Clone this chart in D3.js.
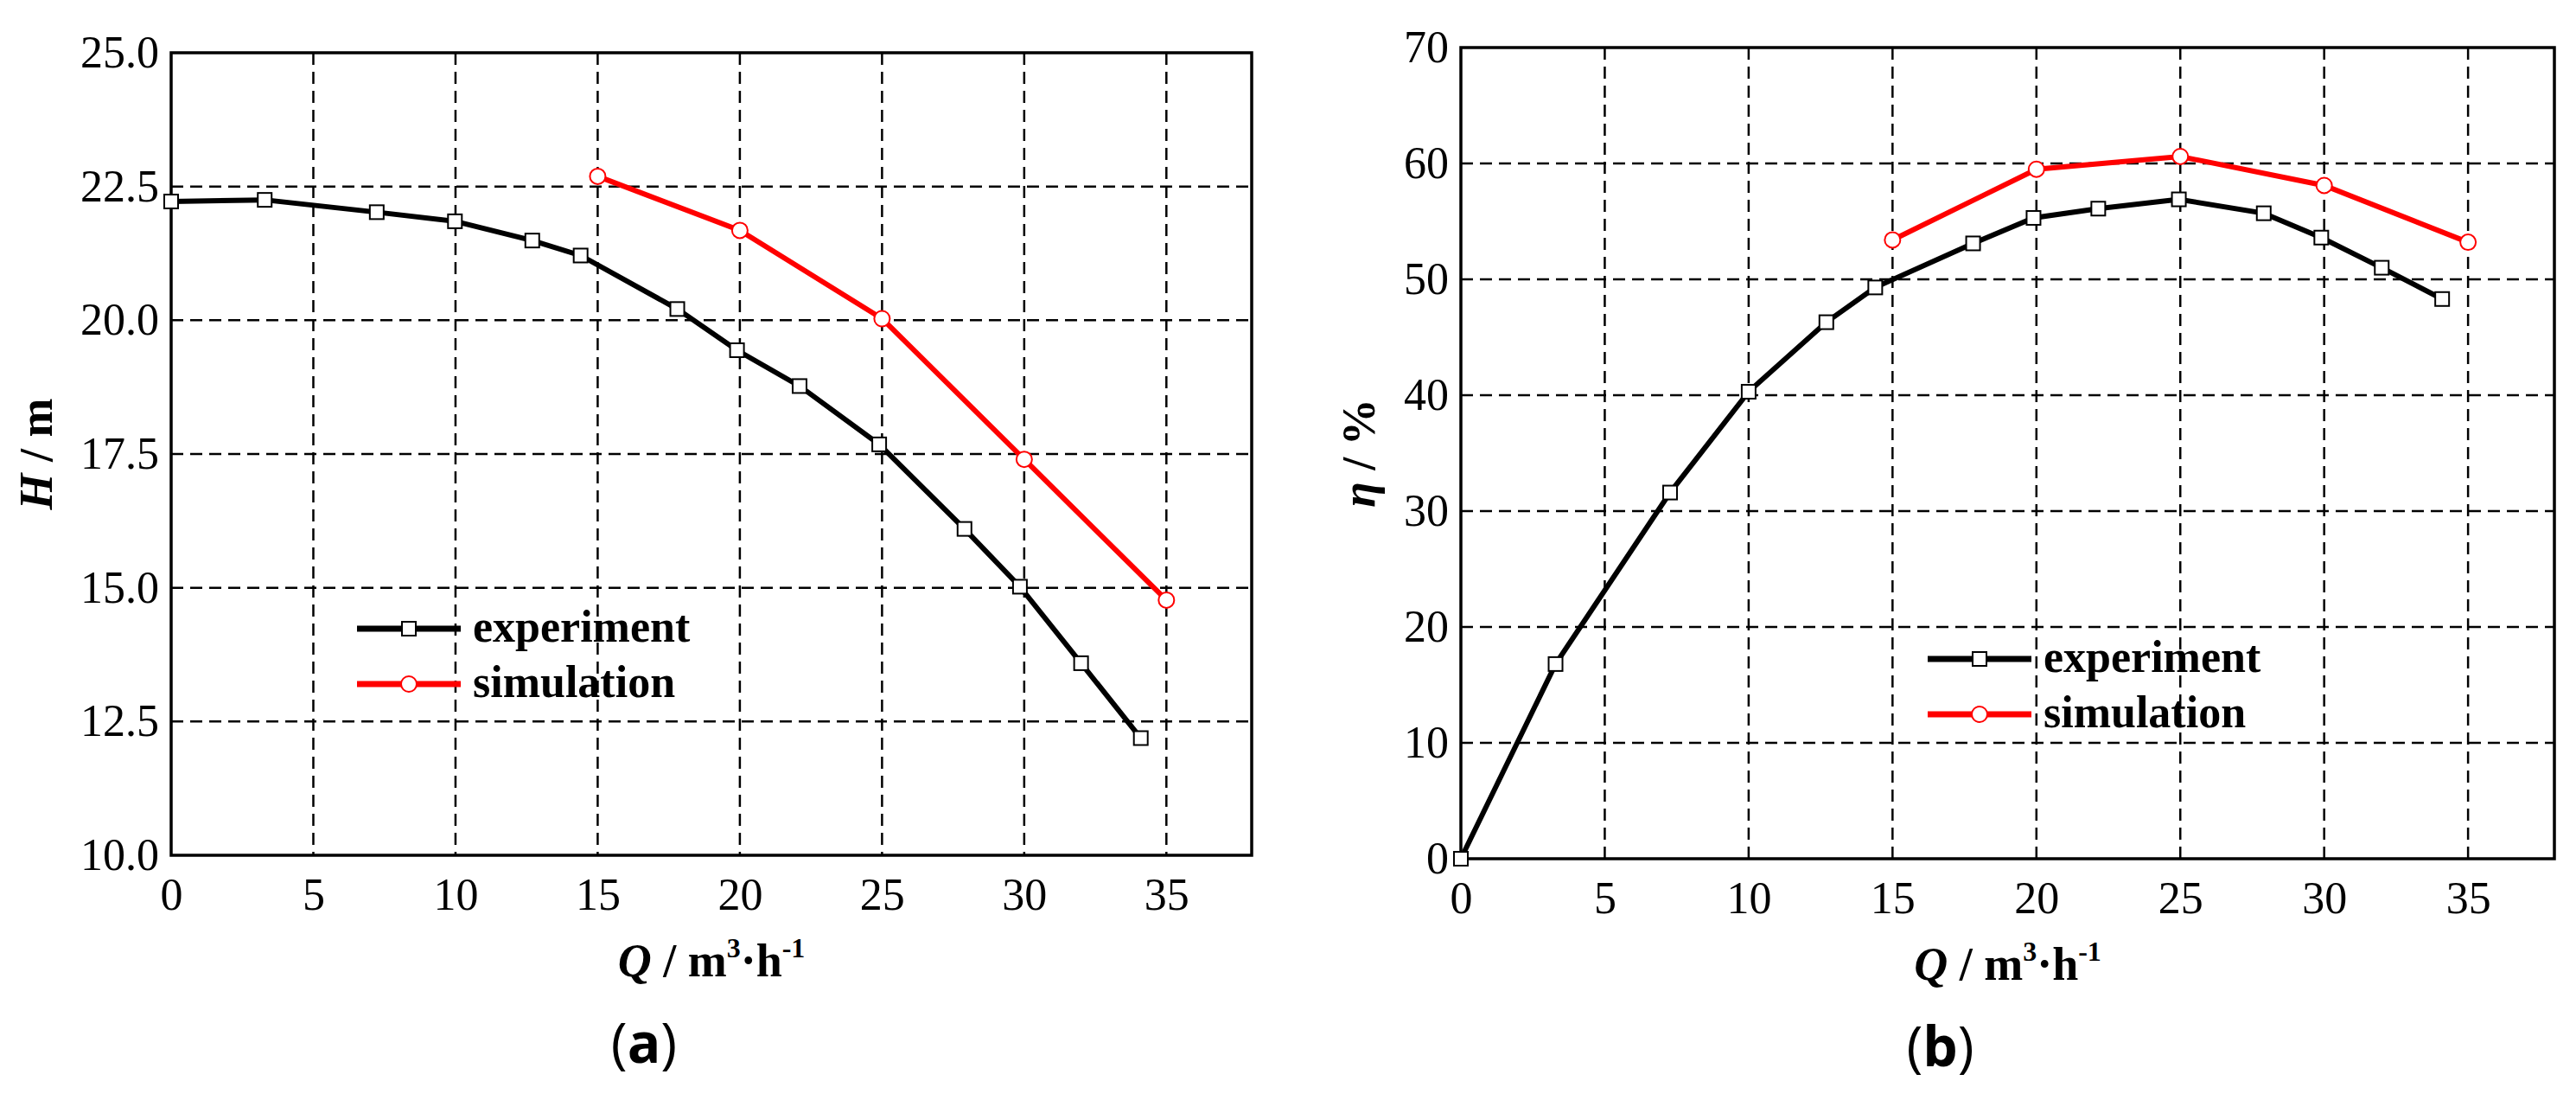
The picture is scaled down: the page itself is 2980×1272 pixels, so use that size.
<!DOCTYPE html>
<html><head><meta charset="utf-8">
<script src="https://cdn.jsdelivr.net/npm/d3@7"></script>
<style>body{margin:0;background:#fff} svg text{font-family:'Liberation Serif','Times New Roman',serif}</style>
</head><body>
<svg id="c" width="2980" height="1272"></svg>
<script>
// experiment / simulation data
const expQ = [0, 3.29, 7.23, 9.98, 12.7, 14.4, 17.8, 19.9, 22.1, 24.9, 27.9, 29.85, 32.0, 34.1];
const expH = [22.22, 22.25, 22.02, 21.85, 21.49, 21.21, 20.21, 19.44, 18.77, 17.68, 16.10, 15.02, 13.59, 12.19];
const expQb = [0, 3.29, 7.27, 10.0, 12.7, 14.4, 17.8, 19.9, 22.15, 24.95, 27.9, 29.9, 32.0, 34.1];
const expEta = [0, 16.8, 31.6, 40.3, 46.3, 49.3, 53.1, 55.3, 56.1, 56.9, 55.7, 53.6, 51.0, 48.3];
const simQ = [15, 20, 25, 30, 35];
const simH = [22.69, 21.68, 20.03, 17.40, 14.77];
const simEta = [53.4, 59.5, 60.6, 58.1, 53.2];
const xTicks = [0, 5, 10, 15, 20, 25, 30, 35];
const hTicks = [10, 12.5, 15, 17.5, 20, 22.5, 25];
const etaTicks = [0, 10, 20, 30, 40, 50, 60, 70];
const legendNames = ["experiment", "simulation"];

const svg = d3.select("#c");
const serif = "'Liberation Serif', 'Times New Roman', serif";

function panel(o) {
  const x = d3.scaleLinear().domain([0, 38]).range([o.left, o.right]);
  const y = d3.scaleLinear().domain(o.yDomain).range([o.bottom, o.top]);
  const g = svg.append("g");

  // grid
  g.selectAll(".gx").data(xTicks.filter(t => t > 0)).join("line")
    .attr("x1", d => x(d)).attr("x2", d => x(d)).attr("y1", o.top).attr("y2", o.bottom)
    .attr("stroke", "#000").attr("stroke-width", 2.5).attr("stroke-dasharray", "14,8");
  g.selectAll(".gy").data(o.yTicks.filter(t => t > o.yDomain[0] && t < o.yDomain[1])).join("line")
    .attr("x1", o.left).attr("x2", o.right).attr("y1", d => y(d)).attr("y2", d => y(d))
    .attr("stroke", "#000").attr("stroke-width", 2.5).attr("stroke-dasharray", "14,8");

  g.append("rect").attr("x", o.left).attr("y", o.top)
    .attr("width", o.right - o.left).attr("height", o.bottom - o.top)
    .attr("fill", "none").attr("stroke", "#000").attr("stroke-width", 3.5);

  // axes (labels only)
  const ax = g.append("g").attr("transform", `translate(0,${o.bottom})`)
    .call(d3.axisBottom(x).tickValues(xTicks).tickSize(0).tickPadding(26).tickFormat(d3.format("d")));
  const ay = g.append("g").attr("transform", `translate(${o.left},0)`)
    .call(d3.axisLeft(y).tickValues(o.yTicks).tickSize(0).tickPadding(14).tickFormat(o.fmt));
  [ax, ay].forEach(a => {
    a.attr("font-family", null).attr("font-size", null);
    a.select(".domain").remove();
    a.selectAll("text").style("font-family", serif).style("font-size", "52px").attr("fill", "#000");
  });

  const line = d3.line().x(d => x(d[0])).y(d => y(d[1]));
  const expData = o.expX.map((v, i) => [v, o.expY[i]]);
  const simData = simQ.map((v, i) => [v, o.simY[i]]);
  g.append("path").datum(expData).attr("d", line).attr("fill", "none").attr("stroke", "#000").attr("stroke-width", 6);
  g.append("path").datum(simData).attr("d", line).attr("fill", "none").attr("stroke", "#f00").attr("stroke-width", 6);
  g.selectAll(".sq").data(expData).join("rect")
    .attr("x", d => x(d[0]) - 8).attr("y", d => y(d[1]) - 8).attr("width", 16).attr("height", 16)
    .attr("fill", "#fff").attr("stroke", "#000").attr("stroke-width", 2);
  g.selectAll(".ci").data(simData).join("circle")
    .attr("cx", d => x(d[0])).attr("cy", d => y(d[1])).attr("r", 9)
    .attr("fill", "#fff").attr("stroke", "#f00").attr("stroke-width", 2);

  // legend
  legendNames.forEach((n, i) => {
    const ly = o.legY + i * 64, col = i ? "#f00" : "#000";
    g.append("line").attr("x1", o.legX).attr("x2", o.legX + 120).attr("y1", ly).attr("y2", ly)
      .attr("stroke", col).attr("stroke-width", 7);
    if (i) g.append("circle").attr("cx", o.legX + 60).attr("cy", ly).attr("r", 9)
      .attr("fill", "#fff").attr("stroke", col).attr("stroke-width", 2);
    else g.append("rect").attr("x", o.legX + 52).attr("y", ly - 8).attr("width", 16).attr("height", 16)
      .attr("fill", "#fff").attr("stroke", col).attr("stroke-width", 2);
    g.append("text").attr("x", o.legX + 134).attr("y", ly + 15).text(n)
      .attr("font-weight", "bold").attr("font-size", 52);
  });

  // axis titles
  const cx = (o.left + o.right) / 2;
  const xt = g.append("text").attr("x", cx).attr("y", o.bottom + 140).attr("text-anchor", "middle")
    .attr("font-weight", "bold").attr("font-size", 54);
  xt.append("tspan").attr("font-style", "italic").text("Q");
  xt.append("tspan").text(" / m");
  xt.append("tspan").attr("font-size", 32).attr("dy", -22).text("3");
  xt.append("tspan").attr("dy", 22).text("·h");
  xt.append("tspan").attr("font-size", 32).attr("dy", -22).text("-1");

  const yt = g.append("text").attr("transform", `translate(${o.yLabX},${(o.top + o.bottom) / 2}) rotate(-90)`)
    .attr("text-anchor", "middle").attr("font-weight", "bold").attr("font-size", 54);
  yt.append("tspan").attr("font-style", "italic").text(o.ySym);
  yt.append("tspan").text(o.yUnit);

  const tg = g.append("text").attr("x", cx - 78).attr("y", o.bottom + 240).attr("text-anchor", "middle")
    .style("font-family", "'Open Sans', sans-serif").attr("font-size", 64);
  tg.append("tspan").text("(");
  tg.append("tspan").attr("font-weight", "bold").text(o.tag);
  tg.append("tspan").text(")");
}

panel({left: 198, right: 1448, top: 61, bottom: 989, yDomain: [10, 25], yTicks: hTicks,
  fmt: d3.format(".1f"), expX: expQ, expY: expH, simY: simH, legX: 413, legY: 727,
  yLabX: 60, ySym: "H", yUnit: " / m", tag: "a"});
panel({left: 1690, right: 2955, top: 55, bottom: 993, yDomain: [0, 70], yTicks: etaTicks,
  fmt: d3.format("d"), expX: expQb, expY: expEta, simY: simEta, legX: 2230, legY: 762,
  yLabX: 1590, ySym: "η", yUnit: " / %", tag: "b"});
</script>
</body></html>
